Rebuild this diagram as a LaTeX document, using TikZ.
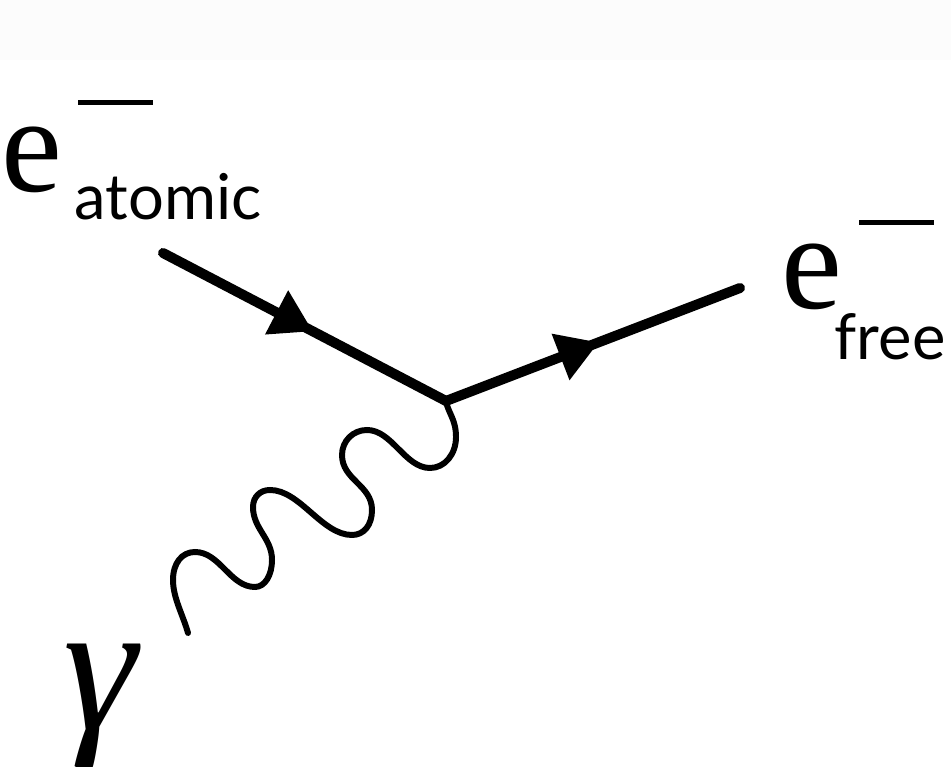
\documentclass[tikz,border=0pt]{standalone}
\usepackage{fontspec}
\setmainfont{Liberation Serif}
\newfontfamily\subfont{Lato}
\usetikzlibrary{arrows.meta,decorations.markings}
\newcommand{\ebar}{\rule{0.75cm}{0.05cm}}

\begin{document}
\begin{tikzpicture}[
  fermion/.style={line width=2.85pt, line cap=round,
    postaction={decorate, decoration={markings,
      mark=at position #1 with {\arrow{Triangle[length=4.1mm,width=4.7mm]}}}}},
  photon/.style={line width=1.7pt, line cap=round},
  elabel/.style={inner sep=0pt, anchor=base west, font=\rmfamily\fontsize{39}{39}\selectfont},
  sublabel/.style={inner sep=0pt, anchor=base west, font=\subfont\fontsize{18}{18}\selectfont},
  barlabel/.style={inner sep=0pt}]
\useasboundingbox (0,0) rectangle (9.51,7.66);
\fill[black!1] (0,7.06) rectangle (9.51,7.66);
\coordinate (ain) at (1.63,5.13);
\coordinate (vtx) at (4.46,3.65);
\coordinate (aout) at (7.40,4.78);
\coordinate (gstart) at (1.88,1.33);
\node[elabel] (eatom) at (0.01,5.74) {e};
\node[barlabel] (eatombar) at (1.155,6.63) {\ebar};
\node[sublabel] (atomic) at (0.74,5.46) {atomic};
\node[elabel] (efree) at (7.81,4.57) {e};
\node[barlabel] (efreebar) at (8.965,5.43) {\ebar};
\node[sublabel] (free) at (8.34,4.06) {free};
\node[inner sep=0pt, font=\rmfamily\itshape\fontsize{53}{53}\selectfont] (gam) at (1.00,0.59) {γ};
\draw[fermion=0.53] (ain) -- (vtx);
\draw[fermion=0.52] (vtx) -- (aout);
\draw[photon] (gstart)
  .. controls +(-0.05,0.18) and +(0,-0.18) .. (1.73,1.86)
  .. controls +(0,0.17) and +(-0.13,0) .. (1.95,2.14)
  .. controls +(0.25,0) and +(-0.25,0) .. (2.55,1.79)
  .. controls +(0.10,0) and +(0,-0.15) .. (2.72,2.06)
  .. controls +(0,0.22) and +(0,-0.22) .. (2.53,2.59)
  .. controls +(0,0.10) and +(-0.10,0) .. (2.70,2.76)
  .. controls +(0.30,0) and +(-0.30,0) .. (3.52,2.31)
  .. controls +(0.12,0) and +(0,-0.15) .. (3.72,2.56)
  .. controls +(0,0.25) and +(0,-0.25) .. (3.42,3.11)
  .. controls +(0,0.14) and +(-0.14,0) .. (3.67,3.36)
  .. controls +(0.25,0) and +(-0.25,0) .. (4.30,2.98)
  .. controls +(0.15,0) and +(0,-0.17) .. (4.56,3.29)
  .. controls +(0,0.18) and +(0.02,-0.12) .. (vtx);
\end{tikzpicture}
\end{document}
